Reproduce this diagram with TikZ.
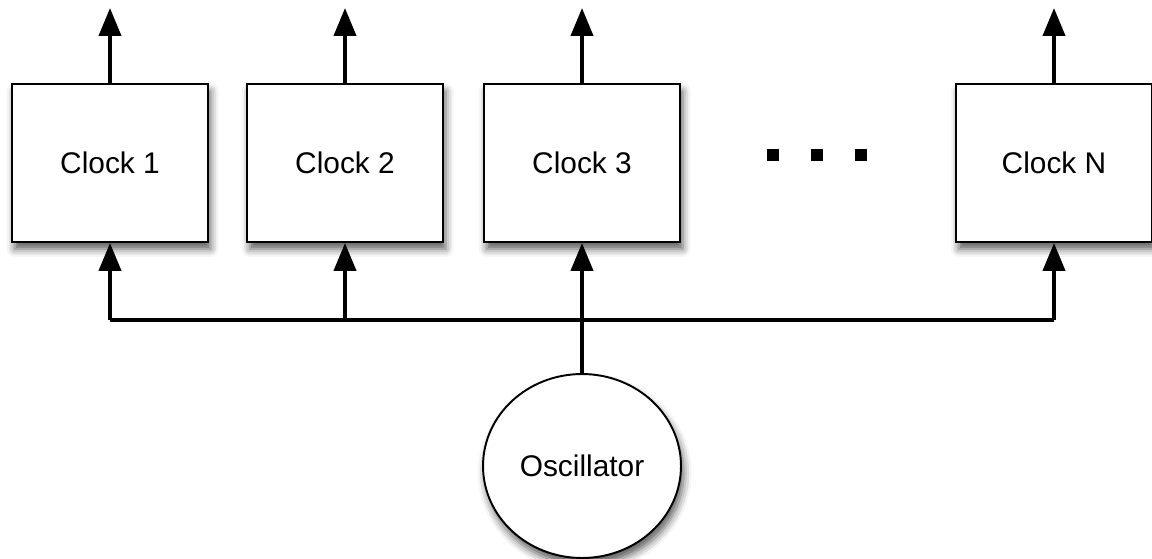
\documentclass[tikz,border=0pt]{standalone}
\usepackage{fontspec}
\setmainfont{Liberation Sans}
\usetikzlibrary{arrows.meta, shadows.blur, shapes.geometric}

\begin{document}
\begin{tikzpicture}[
            x = 0.02cm, y = -0.02cm, % one unit is one pixel
            > = {Triangle[width=0.44cm, length=0.56cm]}, % arrow head style
            line width = 2.3pt % line style
        ]

        \tikzstyle{clock}=[
            draw = black,
            line width = 1.1pt,
            fill = white,
            minimum width = 3.92cm,
            minimum height = 3.16cm,
            font = \fontsize{17}{20}\selectfont,
            blur shadow = {shadow xshift=1.5pt, shadow yshift=-4pt, shadow blur radius=4.5pt, shadow opacity=65}
        ]
        \tikzstyle{osc}=[
            clock,
            ellipse,
            inner sep = 0pt,
            minimum width = 3.96cm,
            minimum height = 3.68cm
        ]
        \tikzstyle{dot}=[
            fill = black,
            inner sep = 0pt,
            minimum size = 0.24cm
        ]

        \useasboundingbox (0,0) rectangle (1152,558);

        \node[clock] (c1) at (110,163) {Clock 1};
        \node[clock] (c2) at (345,163) {Clock 2};
        \node[clock] (c3) at (582,163) {Clock 3};
        \node[clock] (cN) at (1054,163) {Clock N};

        \node[dot] (d1) at (773,155) {};
        \node[dot] (d2) at (817,155) {};
        \node[dot] (d3) at (861,155) {};

        \node[osc] (osc) at (582,466) {Oscillator};

        \coordinate (t1) at (110,8);
        \coordinate (t2) at (345,8);
        \coordinate (t3) at (582,8);
        \coordinate (tN) at (1054,8);

        \coordinate (b1) at (110,320);
        \coordinate (b2) at (345,320);
        \coordinate (bN) at (1054,320);

        \path[->] (c1) edge (t1);
        \path[->] (c2) edge (t2);
        \path[->] (c3) edge (t3);
        \path[->] (cN) edge (tN);

        \draw (b1) -- (bN);
        \path[->] (b1) edge (c1);
        \path[->] (b2) edge (c2);
        \path[->] (bN) edge (cN);
        \path[->] (osc) edge (c3);

  \end{tikzpicture}
\end{document}
